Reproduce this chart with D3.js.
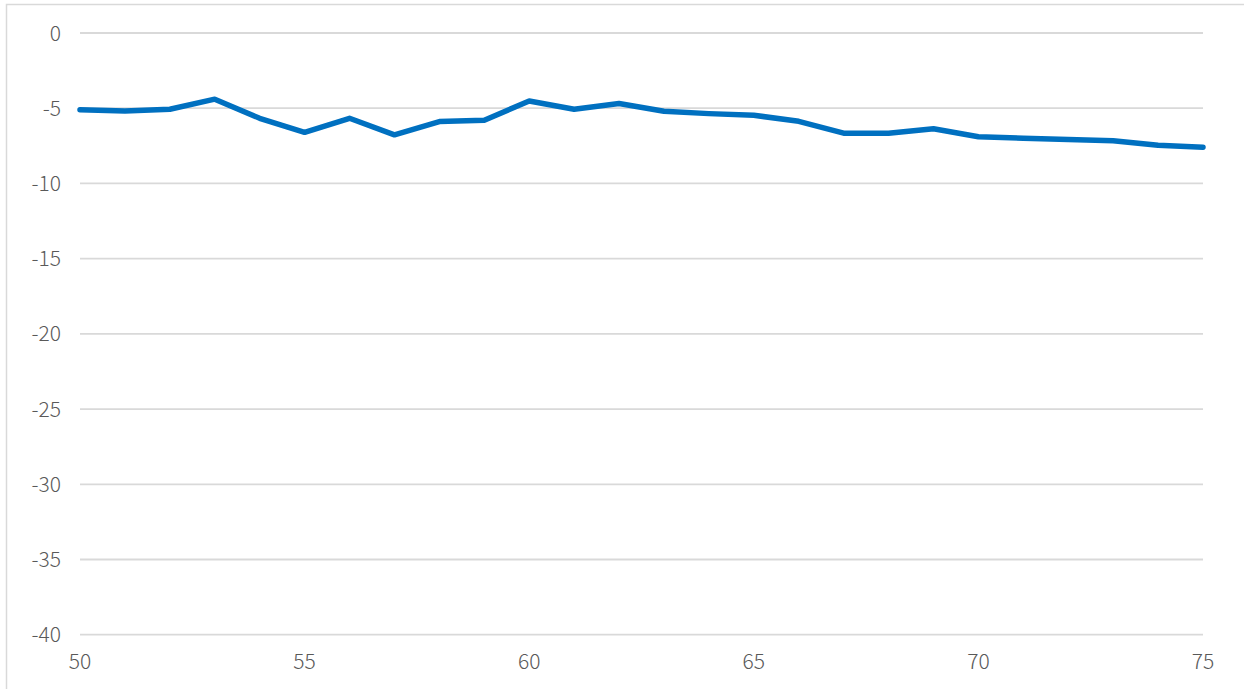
<!DOCTYPE html>
<meta charset="utf-8">
<style>
  body { margin: 0; background: #fff; }
  text { font-family: "Noto Sans CJK JP", "Noto Sans", sans-serif; font-weight: 300; }
</style>
<body>
<script src="https://d3js.org/d3.v7.min.js"></script>
<script>

var ages = [50, 51, 52, 53, 54, 55, 56, 57, 58, 59, 60, 61, 62,
            63, 64, 65, 66, 67, 68, 69, 70, 71, 72, 73, 74, 75];
var values = [-5.1, -5.18, -5.07, -4.4, -5.67, -6.6, -5.67, -6.77, -5.89, -5.8,
              -4.52, -5.07, -4.69, -5.2, -5.36, -5.47, -5.87, -6.66, -6.66, -6.37,
              -6.9, -7.0, -7.08, -7.17, -7.46, -7.59];
var xTicks = [50, 55, 60, 65, 70, 75];
var yTicks = [0, -5, -10, -15, -20, -25, -30, -35, -40];

var width = 1244, height = 689;

var svg = d3.select("body").append("svg")
    .attr("width", width)
    .attr("height", height);

// chart border
svg.append("rect")
    .attr("x", 6.5).attr("y", 4.5)
    .attr("width", width + 10).attr("height", height + 10)
    .attr("fill", "none")
    .attr("stroke", "#d9d9d9")
    .attr("stroke-width", 1.5);

var x = d3.scaleLinear().domain([50, 75]).range([80, 1203]);
var y = d3.scaleLinear().domain([-40, 0]).range([634.7, 33]);

// gridlines
svg.append("g").selectAll("line").data(yTicks).enter()
  .append("line")
    .attr("x1", x(50)).attr("x2", x(75))
    .attr("y1", function(d){ return y(d); })
    .attr("y2", function(d){ return y(d); })
    .attr("stroke", "#d9d9d9")
    .attr("stroke-width", 1.8);

// y labels
svg.append("g").selectAll("text").data(yTicks).enter()
  .append("text")
    .attr("x", 61)
    .attr("y", function(d){ return y(d); })
    .attr("dy", "0.36em")
    .attr("text-anchor", "end")
    .attr("fill", "#595959")
    .style("font-size", "21px")
    .text(function(d){ return d; });

// x labels
svg.append("g").selectAll("text").data(xTicks).enter()
  .append("text")
    .attr("x", function(d){ return x(d); })
    .attr("y", 669)
    .attr("text-anchor", "middle")
    .attr("fill", "#595959")
    .style("font-size", "21px")
    .text(function(d){ return d; });

var line = d3.line()
    .x(function(d, i){ return x(ages[i]); })
    .y(function(d){ return y(d); });

svg.append("path")
    .datum(values)
    .attr("d", line)
    .attr("fill", "none")
    .attr("stroke", "#0070c0")
    .attr("stroke-width", 5.5)
    .attr("stroke-linejoin", "round")
    .attr("stroke-linecap", "round");

</script>
</body>
